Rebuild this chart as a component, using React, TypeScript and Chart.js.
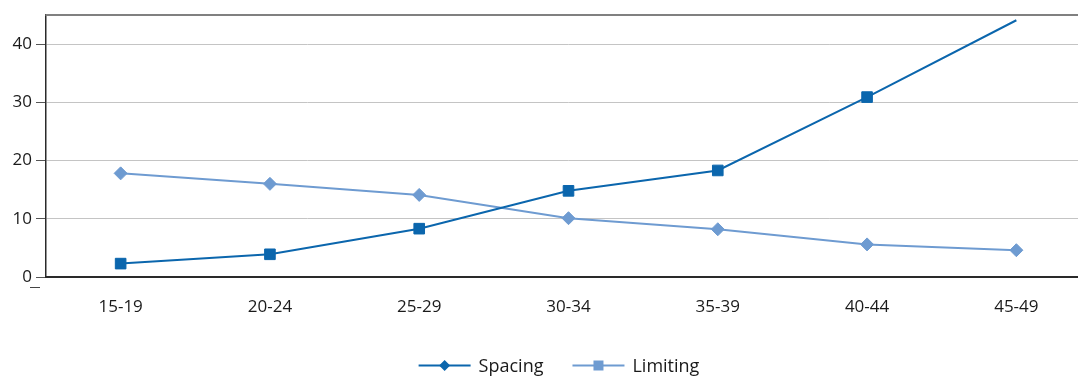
import { useEffect, useRef } from "react";
import { Chart, registerables } from "chart.js";

Chart.register(...registerables);

// Age groups along the x axis
const ageGroups = ["15-19", "20-24", "25-29", "30-34", "35-39", "40-44", "45-49"];
// Percent values per age group
const spacing = [2.3, 3.9, 8.3, 14.8, 18.3, 30.9, 44.1];
const limiting = [17.8, 16.0, 14.1, 10.1, 8.2, 5.6, 4.6];
// Marker radius per point (the last spacing point carries no marker)
const spacingMarkers = [7.5, 7.5, 7.5, 7.5, 7.5, 7.5, 0];
const limitingMarkers = [6.5, 6.5, 6.5, 6.5, 6.5, 6.5, 6.5];
const yTickValues = [0, 10, 20, 30, 40];
const yMax = 45;

const DARK = "#0b66ad";
const LIGHT = "#6e9bd1";
const TEXT = "#1a1a1a";
const FONT = "'Open Sans', 'Noto Sans', sans-serif";

const legendItems = [
  { label: "Spacing", color: DARK, marker: "diamond" },
  { label: "Limiting", color: LIGHT, marker: "square" },
];

const framePlugin = {
  id: "frame",
  beforeDatasetsDraw(chart: any) {
    const { ctx, chartArea: a } = chart;
    ctx.save();
    ctx.strokeStyle = "#808080";
    ctx.lineWidth = 2;
    ctx.beginPath();
    ctx.moveTo(a.left - 0.5, a.top);
    ctx.lineTo(chart.width, a.top);
    ctx.stroke();
    // short dash below the zero tick
    ctx.strokeStyle = "#444";
    ctx.lineWidth = 1;
    ctx.beginPath();
    ctx.moveTo(a.left - 16, a.bottom + 10.5);
    ctx.lineTo(a.left - 6, a.bottom + 10.5);
    ctx.stroke();
    ctx.restore();
  },
  afterDraw(chart: any) {
    const { ctx } = chart;
    const lineLen = 52;
    const gapText = 8;
    const gapItem = 29;
    const y = 365.5;
    ctx.save();
    ctx.font = `18px ${FONT}`;
    ctx.textBaseline = "middle";
    ctx.textAlign = "left";
    const widths = legendItems.map((it) => lineLen + gapText + ctx.measureText(it.label).width);
    const total = widths.reduce((s, w) => s + w, 0) + gapItem * (legendItems.length - 1);
    let x = 559 - total / 2;
    legendItems.forEach((it, i) => {
      ctx.strokeStyle = it.color;
      ctx.fillStyle = it.color;
      ctx.lineWidth = 2;
      ctx.beginPath();
      ctx.moveTo(x, y);
      ctx.lineTo(x + lineLen, y);
      ctx.stroke();
      const cx = x + lineLen / 2;
      ctx.beginPath();
      if (it.marker === "diamond") {
        const r = 5.5;
        ctx.moveTo(cx, y - r);
        ctx.lineTo(cx + r, y);
        ctx.lineTo(cx, y + r);
        ctx.lineTo(cx - r, y);
        ctx.closePath();
      } else {
        const s = 5;
        ctx.rect(cx - s, y - s, s * 2, s * 2);
      }
      ctx.fill();
      ctx.fillStyle = TEXT;
      ctx.fillText(it.label, x + lineLen + gapText, y + 1);
      x += widths[i] + gapItem;
    });
    ctx.restore();
  },
};

export default function App() {
  const canvasRef = useRef<HTMLCanvasElement | null>(null);

  useEffect(() => {
    const canvas = canvasRef.current;
    if (!canvas) return;
    const chart = new Chart(canvas, {
      type: "line",
      data: {
        labels: ageGroups,
        datasets: [
          {
            label: "Spacing",
            data: spacing,
            borderColor: DARK,
            backgroundColor: DARK,
            borderWidth: 2,
            pointStyle: "rect",
            pointRadius: spacingMarkers,
            pointBorderWidth: 1,
            pointBorderColor: DARK,
            pointBackgroundColor: DARK,
            tension: 0,
          },
          {
            label: "Limiting",
            data: limiting,
            borderColor: LIGHT,
            backgroundColor: LIGHT,
            borderWidth: 2,
            pointStyle: "rectRot",
            pointRadius: limitingMarkers,
            pointBorderWidth: 1,
            pointBorderColor: LIGHT,
            pointBackgroundColor: LIGHT,
            tension: 0,
          },
        ],
      },
      options: {
        animation: false,
        responsive: false,
        devicePixelRatio: 1,
        layout: { padding: { top: 15, right: 9, bottom: 49, left: 0 } },
        plugins: {
          legend: { display: false },
          tooltip: { enabled: false },
        },
        scales: {
          x: {
            type: "category",
            offset: true,
            grid: { display: false, drawTicks: false },
            border: { display: true, color: "#2a2a2a", width: 2 },
            ticks: {
              color: TEXT,
              font: { family: FONT, size: 17 },
              padding: 20,
              maxRotation: 0,
              autoSkip: false,
            },
            afterFit(scale: any) {
              scale.height = 50;
            },
          },
          y: {
            min: 0,
            max: yMax,
            afterBuildTicks(scale: any) {
              scale.ticks = yTickValues.map((v) => ({ value: v }));
            },
            grid: {
              color: "#c4c4c4",
              lineWidth: 1,
              tickColor: "#555",
              tickLength: 10,
            },
            border: { display: true, color: "#2a2a2a", width: 1.5 },
            ticks: {
              color: TEXT,
              font: { family: FONT, size: 17 },
              padding: 4,
            },
            afterFit(scale: any) {
              scale.width = 46;
            },
          },
        },
      },
      plugins: [framePlugin],
    });
    return () => chart.destroy();
  }, []);

  return (
    <div
      style={{
        position: "absolute",
        left: 0,
        top: 0,
        width: 1078,
        height: 376,
        overflow: "hidden",
        background: "#fff",
      }}
    >
      <canvas ref={canvasRef} width={1100} height={376} style={{ display: "block" }} />
    </div>
  );
}
